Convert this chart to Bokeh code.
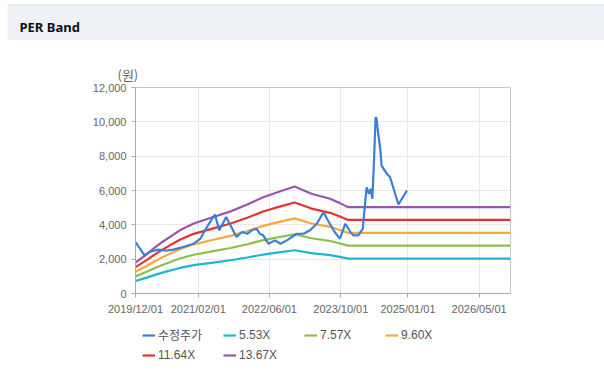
from datetime import datetime
import pandas as pd
from bokeh.plotting import figure
from bokeh.models import (Range1d, FixedTicker, NumeralTickFormatter, Label, Legend,
                          LegendItem, ColumnDataSource, DatetimeTickFormatter, Title,
                          BoxAnnotation)
from bokeh.layouts import column
from bokeh.embed import file_html
from bokeh.resources import INLINE

# ---------------- data ----------------
price_dates = ["2019-12-01", "2020-02-01", "2020-03-05", "2020-05-01", "2020-07-01", "2020-08-15",
               "2020-10-20", "2021-01-01", "2021-02-15", "2021-04-01", "2021-05-25", "2021-06-25",
               "2021-08-10", "2021-10-20", "2021-11-25", "2022-01-01", "2022-02-01", "2022-03-05",
               "2022-03-28", "2022-04-20", "2022-05-25", "2022-07-10", "2022-08-15", "2022-09-28",
               "2022-11-01", "2022-12-05", "2023-01-20", "2023-03-05", "2023-04-20", "2023-06-05",
               "2023-07-05", "2023-08-20", "2023-09-25", "2023-11-01", "2023-12-05", "2023-12-25",
               "2024-01-28", "2024-02-28", "2024-03-10", "2024-03-25", "2024-04-10", "2024-04-22",
               "2024-05-03", "2024-05-15", "2024-05-25", "2024-06-01", "2024-06-12", "2024-06-25",
               "2024-07-05", "2024-08-10", "2024-09-01", "2024-09-25", "2024-10-28", "2024-12-25"]
price_values = [3000, 2220, 2420, 2555, 2500, 2555, 2710, 2900, 3190, 3870, 4600, 3680,
                4450, 3290, 3580, 3480, 3680, 3775, 3480, 3390, 2900, 3095, 2900, 3095,
                3290, 3480, 3480, 3680, 4065, 4740, 4256, 3580, 3190, 4065, 3580, 3385,
                3385, 3775, 4840, 6190, 5810, 6100, 5520, 7840, 10260, 10200, 9290, 8515,
                7450, 6970, 6775, 6100, 5185, 6000]

band_dates = ["2019-12-01", "2020-02-15", "2020-04-01", "2020-06-01", "2020-09-28", "2021-01-01",
              "2021-05-15", "2021-09-10", "2022-01-01", "2022-04-20", "2022-08-15", "2022-11-20",
              "2023-03-15", "2023-07-20", "2023-09-25", "2023-11-20", "2026-12-01"]
band_eps = [131.7, 166.8, 191.0, 219.5, 269.2, 298.5, 326.0, 350.0, 379.3, 410.4, 436.0, 455.7,
            425.0, 403.8, 385.1, 368.0, 368.0]

multiples = [5.53, 7.57, 9.60, 11.64, 13.67]
band_labels = ["5.53X", "7.57X", "9.60X", "11.64X", "13.67X"]
price_label = "수정주가"

x_tick_dates = ["2019-12-01", "2021-02-01", "2022-06-01", "2023-10-01", "2025-01-01", "2026-05-01"]
y_ticks = [0, 2000, 4000, 6000, 8000, 10000, 12000]

# ---------------- styles ----------------
band_colors = ["#1db5cf", "#8cc04a", "#f9a93b", "#e4322f", "#9a55b0"]
price_color = "#3b7fd8"
LATIN = "Liberation Sans"
W = 604


def bare(h, bg="white"):
    f = figure(width=W, height=h, output_backend="svg", toolbar_location=None,
               x_range=(0, 1), y_range=(0, 1), min_border=0,
               x_axis_location=None, y_axis_location=None)
    f.frame_align = False
    f.grid.visible = False
    f.outline_line_color = None
    f.background_fill_color = bg
    f.border_fill_color = bg
    return f


def sbox(fig, left, right, bottom, top, color):
    fig.add_layout(BoxAnnotation(left=left, right=right, bottom=bottom, top=top,
                                 left_units="screen", right_units="screen",
                                 bottom_units="screen", top_units="screen",
                                 fill_color=color, fill_alpha=1, line_color=None))


# ---------------- header ----------------
hdr = bare(40)
sbox(hdr, 7, W, 0, 35, "#eef2f7")
sbox(hdr, 7, W, 35, 36, "#d9d9d9")
hdr.add_layout(Label(x=19, y=14, x_units="screen", y_units="screen", text="PER Band",
                     text_font="Noto Sans", text_font_style="bold", text_font_size="13px",
                     text_baseline="middle", text_color="#111111"))

# ---------------- main chart ----------------
p = figure(width=W, height=280, output_backend="svg", toolbar_location=None,
           x_axis_type="datetime",
           x_range=Range1d(datetime(2019, 12, 1), datetime(2026, 12, 1)),
           y_range=Range1d(0, 12000),
           min_border_left=135, min_border_right=94, min_border_top=47, min_border_bottom=27)
p.frame_align = False
p.background_fill_color = "white"
p.border_fill_color = "white"
p.outline_line_color = "#c8c8c8"

p.add_layout(Title(text="(원)", align="left", offset=-18, standoff=7,
                   text_font="Noto Sans CJK KR", text_font_size="13px",
                   text_font_style="normal", text_color="#666666"), "above")

bd = pd.to_datetime(band_dates)
band_renderers = []
for m, c in zip(multiples, band_colors):
    src = ColumnDataSource(dict(x=bd, y=[e * m for e in band_eps]))
    r = p.line("x", "y", source=src, line_color=c, line_width=2.2)
    band_renderers.append(r)

psrc = ColumnDataSource(dict(x=pd.to_datetime(price_dates), y=price_values))
pr = p.line("x", "y", source=psrc, line_color=price_color, line_width=2.2)

tick_ms = [pd.Timestamp(d).timestamp() * 1000 for d in x_tick_dates]
p.xaxis.ticker = FixedTicker(ticks=tick_ms)
fmt = "%Y/%m/%d"
p.xaxis.formatter = DatetimeTickFormatter(years=fmt, months=fmt, days=fmt, hours=fmt)
p.yaxis.ticker = FixedTicker(ticks=y_ticks)
p.yaxis.formatter = NumeralTickFormatter(format="0,0")

for ax in (p.xaxis[0], p.yaxis[0]):
    ax.axis_line_color = "#aaaaaa"
    ax.major_tick_line_color = "#aaaaaa"
    ax.major_tick_out = 4
    ax.major_tick_in = 0
    ax.minor_tick_line_color = None
    ax.major_label_text_font = LATIN
    ax.major_label_text_font_size = "11px"
    ax.major_label_text_color = "#666666"
    ax.major_label_standoff = 5

p.grid.grid_line_color = "#e8e8e8"

# ---------------- legend strip ----------------
leg = bare(56)
# legend-only renderers: data sits outside the strip's visible range
leg_renderers = [leg.line(x=[-2, -1], y=[-2, -1], line_color=c, line_width=2.2)
                 for c in [price_color] + band_colors]
legend_font = "Liberation Sans, Noto Sans CJK KR"
items = [LegendItem(label=lab, renderers=[r])
         for lab, r in zip([price_label] + band_labels, leg_renderers)]
lg = Legend(items=items, location=(142, 14), ncols=4, orientation="horizontal",
            glyph_width=13, glyph_height=14, label_height=14, label_width=60,
            label_standoff=3, padding=0, margin=0, spacing=5,
            border_line_color=None, background_fill_alpha=0,
            label_text_font=legend_font, label_text_font_size="12px",
            label_text_color="#555555")
leg.add_layout(lg, "center")

# ---------------- bottom rule ----------------
rule = bare(1)
sbox(rule, 7, W, 0, 1, "#d4d4d4")

layout = column(hdr, p, leg, rule, spacing=0)
open("out.html", "w").write(file_html(layout, INLINE))
